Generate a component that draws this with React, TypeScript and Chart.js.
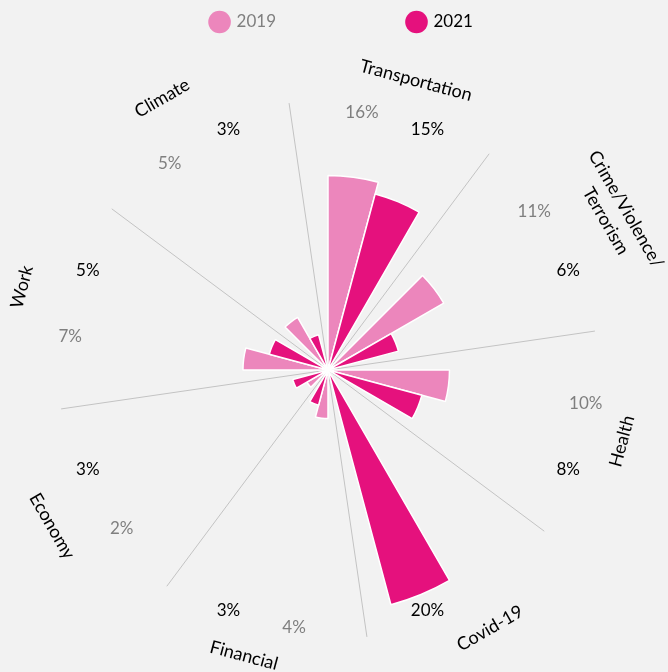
import React, { useEffect, useRef } from 'react';
import { Chart, registerables } from 'chart.js';

Chart.register(...registerables);

// ---------- data ----------
const categories = ['Transportation', 'Crime/Violence/Terrorism', 'Health', 'Covid-19', 'Financial', 'Economy', 'Work', 'Climate'];
const seriesNames = ['2019', '2021'];
const values2019: (number | null)[] = [16, 11, 10, null, 4, 2, 7, 5];
const values2021: (number | null)[] = [15, 6, 8, 20, 3, 3, 5, 3];

// ---------- styles / layout ----------
const COLOR_2019 = '#EC86BC';
const COLOR_2021 = '#E5117D';
const GRAY_TEXT = '#7F7F7F';
const BLACK_TEXT = '#000000';
const BG = '#F2F2F2';
const FONT_FAMILY = 'Lato';
const FONT_SIZE = 17;
const CATEGORY_FONT_SIZE = 18;
const SCALE_MAX = 20;
const SPOKE_VALUE = 22.2;
const SPOKE_OFFSET_DEG = -8.3;
const VALUE_LABEL_VALUE = 21.4;
// [radius in scale units, angle shift in degrees] for each category label
const CATEGORY_LABEL_PLACEMENT: [number, number][] = [
  [24.9, 1.9], [26.9, 1.7], [24.9, -1.4], [25.1, -2.1],
  [24.5, 1.4], [26.1, 0.5], [26.1, 0.2], [26.2, -1.4],
];
const LEGEND_SHIFT_X = 14;
const LEGEND_SHIFT_Y = -118.5;

const DEG = Math.PI / 180;
const seriesColors = [COLOR_2019, COLOR_2021];
const seriesText = [GRAY_TEXT, BLACK_TEXT];

function wrapLabel(name: string): string[] {
  const idx = name.lastIndexOf('/');
  if (name.length > 16 && idx > 0) return [name.slice(0, idx + 1), name.slice(idx + 1)];
  return [name];
}

// 3 slots per category: 2019, 2021, empty gap
const slotLabels: string[] = [];
const slotValues: number[] = [];
const slotColors: string[] = [];
categories.forEach((c, i) => {
  slotLabels.push(`${c} ${seriesNames[0]}`, `${c} ${seriesNames[1]}`, '');
  slotValues.push(values2019[i] ?? 0, values2021[i] ?? 0, 0);
  slotColors.push(COLOR_2019, COLOR_2021, 'rgba(0,0,0,0)');
});

function drawLines(ctx: CanvasRenderingContext2D, lines: string[], x: number, y: number, rotDeg: number, color: string, size: number) {
  ctx.save();
  ctx.translate(x, y);
  ctx.rotate(rotDeg * DEG);
  ctx.fillStyle = color;
  ctx.textAlign = 'center';
  ctx.textBaseline = 'middle';
  ctx.font = `${size}px ${FONT_FAMILY}`;
  const lh = 23.5;
  const n = lines.length;
  lines.forEach((l, i) => ctx.fillText(l, 0, (i - (n - 1) / 2) * lh));
  ctx.restore();
}

const decorPlugin = {
  id: 'decor',
  afterLayout(chart: any) {
    const lg = chart.legend;
    if (lg) {
      // nudge the legend box (keeping its bottom so the clip area still holds the items)
      lg.left += LEGEND_SHIFT_X;
      lg.right += LEGEND_SHIFT_X;
      lg.top += LEGEND_SHIFT_Y;
    }
  },
  beforeDatasetsDraw(chart: any) {
    const scale = chart.scales.r;
    const ctx = chart.ctx as CanvasRenderingContext2D;
    const xc = scale.xCenter;
    const yc = scale.yCenter;
    const r = scale.getDistanceFromCenterForValue(SPOKE_VALUE);
    ctx.save();
    ctx.strokeStyle = '#C3C3C3';
    ctx.lineWidth = 1;
    for (let k = 0; k < categories.length; k++) {
      const a = (SPOKE_OFFSET_DEG + (360 / categories.length) * k - 90) * DEG;
      ctx.beginPath();
      ctx.moveTo(xc, yc);
      ctx.lineTo(xc + Math.cos(a) * r, yc + Math.sin(a) * r);
      ctx.stroke();
    }
    ctx.restore();
  },
  afterDatasetsDraw(chart: any) {
    const scale = chart.scales.r;
    const ctx = chart.ctx as CanvasRenderingContext2D;
    const meta = chart.getDatasetMeta(0);
    const xc = scale.xCenter;
    const yc = scale.yCenter;
    // value labels
    const rv = scale.getDistanceFromCenterForValue(VALUE_LABEL_VALUE);
    categories.forEach((_, i) => {
      [values2019[i], values2021[i]].forEach((v, s) => {
        if (v === null || v === undefined) return;
        const arc = meta.data[i * 3 + s];
        const a = (arc.startAngle + arc.endAngle) / 2;
        drawLines(ctx, [`${v}%`], xc + Math.cos(a) * rv, yc + Math.sin(a) * rv, 0, seriesText[s], FONT_SIZE);
      });
    });
    // category labels
    categories.forEach((name, i) => {
      const arc = meta.data[i * 3];
      const [rVal, shift] = CATEGORY_LABEL_PLACEMENT[i];
      const boundaryDeg = arc.endAngle / DEG + 90; // degrees clockwise from top
      const aDeg = boundaryDeg + shift;
      const rr = scale.getDistanceFromCenterForValue(rVal);
      const a = (aDeg - 90) * DEG;
      const alpha = ((boundaryDeg % 360) + 360) % 360;
      let rot = alpha;
      if (alpha > 90 && alpha < 270) rot = alpha - 180;
      else if (alpha >= 270) rot = alpha - 360;
      drawLines(ctx, wrapLabel(name), xc + Math.cos(a) * rr, yc + Math.sin(a) * rr, rot, BLACK_TEXT, CATEGORY_FONT_SIZE);
    });
  },
};

export default function App() {
  const canvasRef = useRef<HTMLCanvasElement | null>(null);

  useEffect(() => {
    document.body.style.margin = '0';
    document.body.style.background = BG;
    Chart.defaults.font.family = FONT_FAMILY;
    const canvas = canvasRef.current;
    if (!canvas) return;
    const chart = new Chart(canvas, {
      type: 'polarArea',
      data: {
        labels: slotLabels,
        datasets: [
          {
            data: slotValues,
            backgroundColor: slotColors,
            borderColor: '#FFFFFF',
            borderWidth: (c: any) => (c.raw > 0 ? 1.5 : 0),
          } as any,
        ],
      },
      options: {
        responsive: true,
        maintainAspectRatio: false,
        animation: false,
        events: [],
        layout: { padding: { top: 0, right: 12, bottom: 59, left: 0 } },
        scales: {
          r: {
            min: 0,
            max: SCALE_MAX,
            startAngle: 0,
            ticks: { display: false },
            grid: { display: false },
            angleLines: { display: false },
            pointLabels: { display: false },
          },
        },
        plugins: {
          tooltip: { enabled: false },
          legend: {
            position: 'top',
            maxHeight: 127,
            labels: {
              usePointStyle: true,
              boxHeight: 16,
              padding: 132,
              font: { family: FONT_FAMILY, size: FONT_SIZE },
              generateLabels: () =>
                seriesNames.map((name, s) => ({
                  text: name,
                  fillStyle: seriesColors[s],
                  strokeStyle: seriesColors[s],
                  lineWidth: 0,
                  pointStyle: 'circle',
                  hidden: false,
                  fontColor: seriesText[s],
                  index: s,
                })),
            },
          },
        },
      } as any,
      plugins: [decorPlugin as any],
    });
    return () => chart.destroy();
  }, []);

  return (
    <div style={{ width: 668, height: 672, background: BG, position: 'relative' }}>
      <canvas ref={canvasRef} />
    </div>
  );
}
